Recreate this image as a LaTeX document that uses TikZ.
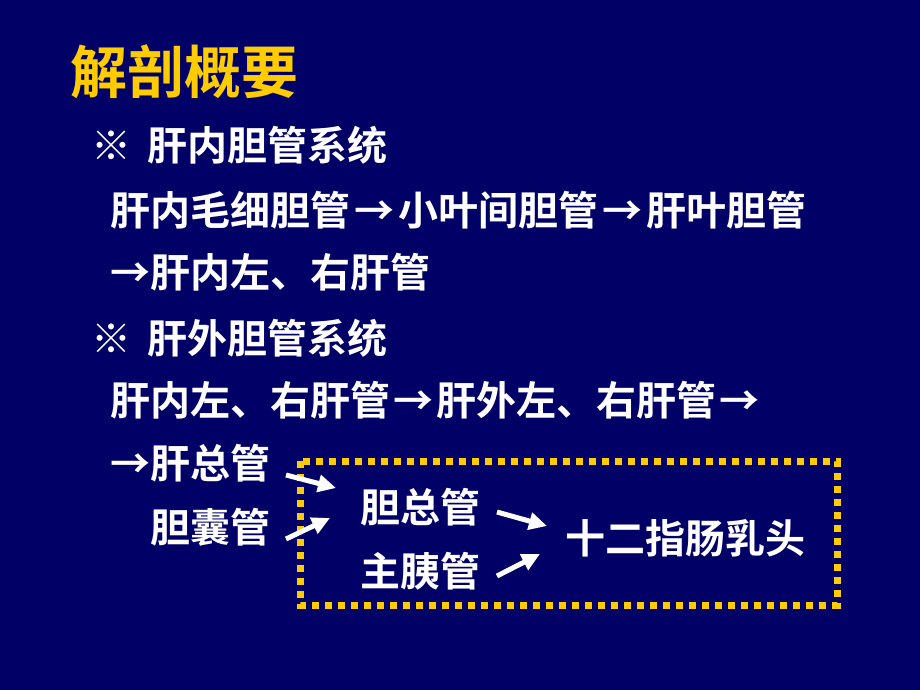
\documentclass[tikz,border=0pt]{standalone}
\usepackage{fontspec}
\setmainfont{Noto Sans CJK SC}[BoldFont={Noto Sans CJK SC Bold}]
\usetikzlibrary{arrows.meta}
\definecolor{bgnavy}{HTML}{000066}
\definecolor{titleyellow}{HTML}{FFCC00}
\newcommand{\rarw}[1]{\makebox[#1em]{→}}
\tikzset{
  txt/.style={anchor=west, inner sep=0pt, text=white, font=\bfseries\fontsize{40}{44}\selectfont},
  ttl/.style={anchor=west, inner sep=0pt, text=titleyellow, font=\bfseries\fontsize{57}{62}\selectfont},
  flow/.style={draw=white, line width=5pt, -{Triangle[length=18pt,width=17pt]}},
  dotbox/.style={draw=titleyellow, line width=7pt, dash pattern=on 7pt off 6pt}
}
\begin{document}
\begin{tikzpicture}[x=1pt,y=-1pt]
\fill[bgnavy] (0,0) rectangle (920,690);
\useasboundingbox (0,0) rectangle (920,690);
\node[ttl] (title) at (70,72) {解剖概要};
\node[txt] (h1) at (91,145) {※\hspace{0.42em}肝内胆管系统};
\node[txt] (l2) at (110,210) {肝内毛细胆管\rarw{1.2}小叶间胆管\rarw{1.2}肝叶胆管};
\node[txt] (l3) at (110,272) {\rarw{1}肝内左、右肝管};
\node[txt] (h2) at (91,338) {※\hspace{0.42em}肝外胆管系统};
\node[txt] (l5) at (110,400) {肝内左、右肝管\rarw{1.15}肝外左、右肝管\rarw{1.15}};
\node[txt] (gan) at (110,463) {\rarw{1}肝总管};
\node[txt] (dan) at (150,527) {胆囊管};
\node[txt] (dzg) at (360,507) {胆总管};
\node[txt] (zyg) at (360,571) {主胰管};
\node[txt] (rt) at (565,538) {十二指肠乳头};
\draw[dotbox] (300,461) rectangle (837,605);
\coordinate (a1s) at (286,475); \coordinate (a1e) at (336,488);
\coordinate (a2s) at (286,539); \coordinate (a2e) at (330,518);
\coordinate (a3s) at (497,512); \coordinate (a3e) at (547,526);
\coordinate (a4s) at (497,576); \coordinate (a4e) at (540,554);
\draw[flow] (a1s) -- (a1e);
\draw[flow] (a2s) -- (a2e);
\draw[flow] (a3s) -- (a3e);
\draw[flow] (a4s) -- (a4e);
\end{tikzpicture}
\end{document}
